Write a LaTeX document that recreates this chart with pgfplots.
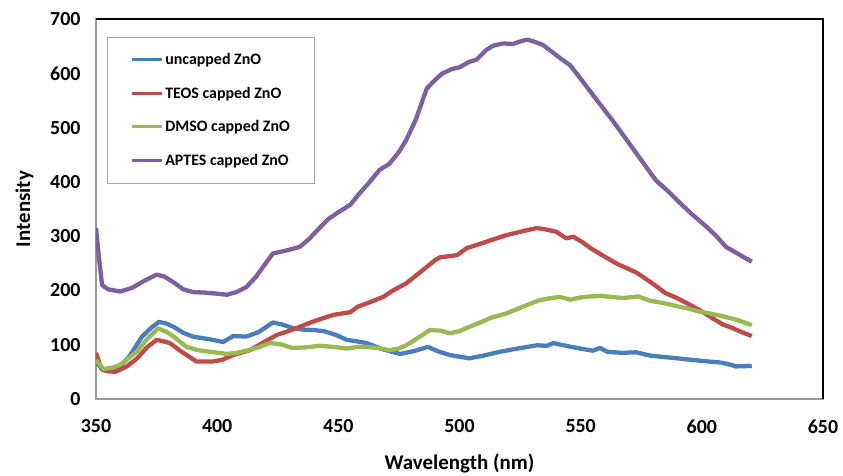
\documentclass[border=0pt]{standalone}
\usepackage{fontspec}
\setmainfont{Carlito}
\usepackage{pgfplots}
\pgfplotsset{compat=1.18}
\definecolor{cblue}{HTML}{4A7EBB}
\definecolor{cred}{HTML}{BE4B48}
\definecolor{cgreen}{HTML}{98B954}
\definecolor{cpurple}{HTML}{7D60A0}
\begin{document}
\begin{tikzpicture}
\path[use as bounding box] (-96bp,-77bp) rectangle (747bp,399bp);
\begin{axis}[
  scale only axis,
  width=727bp, height=380bp,
  xmin=350, xmax=650, ymin=0, ymax=700,
  xtick={350,400,...,650}, ytick={0,100,...,700},
  major tick length=0pt,
  axis line style={draw=gray!80, line width=1.2bp},
  /pgf/number format/assume math mode=true,
  ticklabel style={font=\fontsize{20}{24}\selectfont\bfseries},
  yticklabel style={xshift=-12bp},
  xticklabel style={yshift=-17bp},
  xlabel={Wavelength (nm)},
  ylabel={Intensity},
  label style={font=\fontsize{21}{25}\selectfont\bfseries},
  xlabel style={yshift=-14bp},
  ylabel style={yshift=10bp},
  legend style={at={(0.015,0.953)}, anchor=north west, draw=gray!70,
    line width=0.8bp, font=\fontsize{16}{19}\selectfont\bfseries,
    row sep=17bp, inner xsep=23bp, inner ysep=14bp, cells={anchor=west}},
  legend image code/.code={\draw[#1, line width=3bp] (0bp,0bp) -- (30bp,0bp);},
  every axis plot/.append style={line width=4.3bp, line join=round},
  after end axis/.code={\draw[black, line width=1.5bp] (rel axis cs:0,1) -- (rel axis cs:1,1) -- (rel axis cs:1,0);},
]
\addplot[cblue] coordinates {
(350,68)(353,53)(357,55)(360,60)(364,80)(369,115)(373,132)(376,142)(379,139)(382,133)
(386,122)(390,115)(394,112)(397,110)(402.5,105)(406.6,116)(412,115)(417,123)(423,141)(427,137)
(431,131)(435,128)(439.6,127)(444,125)(449,118)(453.5,109)(458,106)(461.7,103)(468,92)(475.5,83)
(481,88)(487,96)(491,88)(496,81)(504,75)(510,80)(516.7,87)(524,93)(532,99)(536,98)
(538.7,103)(545,97)(551,92)(555,89)(558,94)(561,87)(567,85)(573,86)(578.6,80)(583,78)
(589.6,75)(596,72)(603,69)(608,67)(612,63)(614,60)(620.6,61)
};
\addlegendentry{uncapped ZnO}
\addplot[cred] coordinates {
(350,85)(352.3,55)(355,51)(358,50)(362.7,60)(367,75)(371,95)(375,109)(378,106)(380.5,103)
(385,88)(391.5,69)(398,69)(402,72)(406.6,81)(413.6,90)(419,104)(424.6,118)(430,126)(434,133)
(441,145)(448,155)(455,160)(458,170)(461.7,176)(468.5,188)(472.6,200)(478,213)(485,238)(490,256)
(492,261)(499,265)(503,278)(508,285)(512.6,292)(519.5,302)(526,309)(532,315)(536,312)(540,308)
(544,296)(547,299)(551,288)(554,278)(560,262)(565,249)(573,233)(578.6,216)(581.4,207)(585,195)
(589.7,186)(594,176)(599,164)(604,150)(608.8,137)(612,132)(616,124)(620.6,116)
};
\addlegendentry{TEOS capped ZnO}
\addplot[cgreen] coordinates {
(350,72)(353,55)(357,58)(360,63)(366.8,87)(371,110)(375.6,130)(379,124)(382,115)(387.4,96)
(392,90)(397,87)(404,83)(408,85)(412,89)(417,95)(421.8,103)(426,101)(431,94)(436,95)
(442.5,98)(448,96)(453.5,93)(458,96)(461.7,96)(466,94)(471,90)(475,93)(478,99)(482,110)
(487.8,127)(492,126)(496,121)(500,125)(503,131)(508,140)(512.6,149)(519.5,158)(524,166)(527.7,173)
(533,182)(538,186)(541.5,188)(545.6,183)(551,188)(558,190)(567.5,186)(573.7,189)(578.6,181)(584,177)
(589.7,171)(594,167)(599,161)(604,157)(610,151)(615,145)(620.6,136)
};
\addlegendentry{DMSO capped ZnO}
\addplot[cpurple] coordinates {
(350,315)(351,270)(352.5,210)(355,202)(360,198)(365,205)(370,218)(375,229)(378,226)(382,215)
(386,202)(390,197)(395,196)(400,194)(404,192)(408,197)(412,206)(416,225)(420,250)(423,268)
(428,273)(434,280)(438,295)(442,314)(446,332)(450,344)(455,358)(458,375)(462,395)(467,422)
(471,433)(475,455)(478,477)(482,515)(486.5,572)(490,588)(493,600)(497,608)(500,611)(504,621)
(507,625)(511,643)(514,651)(518,655)(522,654)(526,660)(528,662)(531,658)(534.5,652)(538,640)
(541.5,628)(545.6,615)(550,590)(556.6,551)(563,514)(570,471)(575,440)(581,403)(586,383)(591,361)
(596,340)(602,317)(606,300)(610,280)(614,270)(617,262)(620.6,253)
};
\addlegendentry{APTES capped ZnO}
\end{axis}
\end{tikzpicture}
\end{document}
